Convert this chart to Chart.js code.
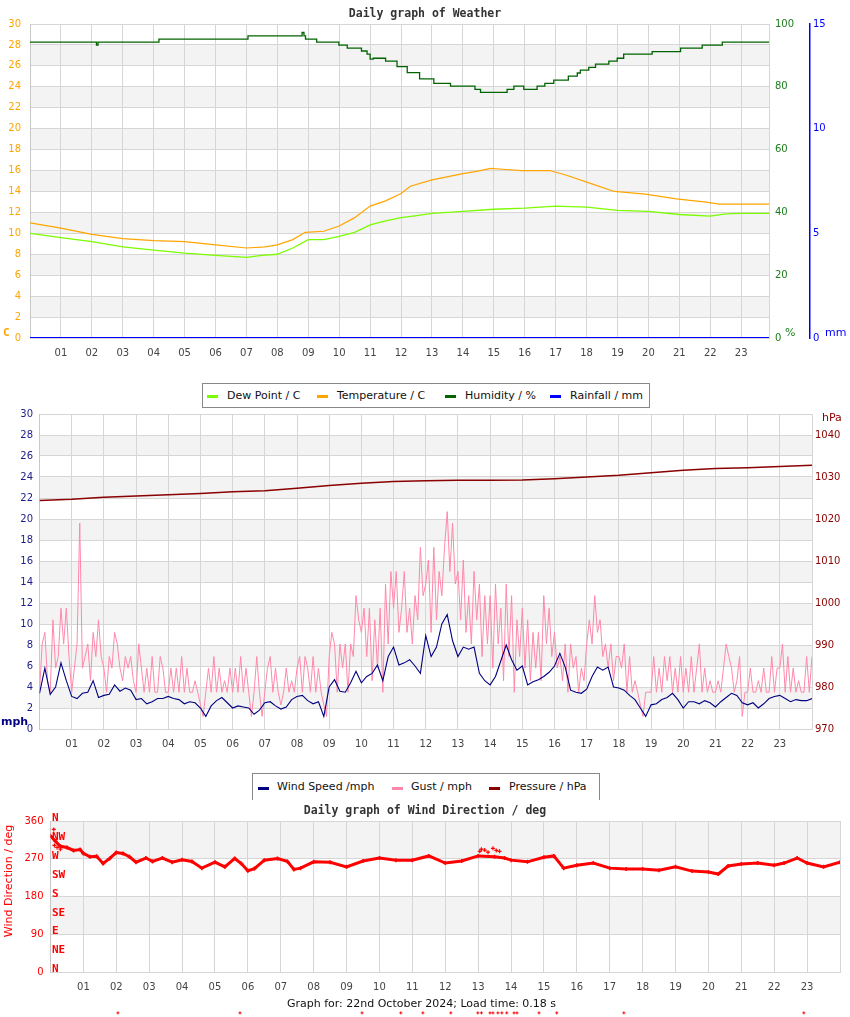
<!DOCTYPE html>
<html><head><meta charset="utf-8">
<script src="https://cdn.jsdelivr.net/npm/chart.js@4.4.1/dist/chart.umd.min.js"></script>
<style>
html,body{margin:0;padding:0;background:#fff;width:850px;height:1017px;overflow:hidden;position:relative;}
canvas{position:absolute;left:0;}
.t{position:absolute;left:0;width:850px;text-align:center;font:bold 11.5px "DejaVu Sans Mono",monospace;color:#333;line-height:14px;z-index:3;}
.lbox{position:absolute;background:#fff;border:1px solid #888;z-index:3;}
.li{position:absolute;font:11px "DejaVu Sans",sans-serif;color:#111;line-height:14px;white-space:nowrap;z-index:4;}
.mk{position:absolute;height:3px;width:11px;z-index:4;}
.foot{position:absolute;left:0;width:843px;text-align:center;font:11px "DejaVu Sans",sans-serif;color:#111;line-height:14px;z-index:3;}
</style></head>
<body>
<canvas id="c1" width="850" height="370" style="top:0"></canvas>
<canvas id="c2" width="850" height="370" style="top:400px"></canvas>
<canvas id="c3" width="850" height="222" style="top:795px"></canvas>

<div class="t" style="top:6px">Daily graph of Weather</div>
<div class="lbox" style="left:202px;top:383px;width:446px;height:23px"></div>
<div class="mk" style="left:207px;top:395px;background:#7cfc00"></div><div class="li" style="left:227px;top:389px">Dew Point / C</div>
<div class="mk" style="left:317px;top:395px;background:#ffa500"></div><div class="li" style="left:337px;top:389px">Temperature / C</div>
<div class="mk" style="left:445px;top:395px;background:#006400"></div><div class="li" style="left:465px;top:389px">Humidity / %</div>
<div class="mk" style="left:550px;top:395px;background:#0000ff"></div><div class="li" style="left:570px;top:389px">Rainfall / mm</div>

<div class="lbox" style="left:252px;top:773px;width:346px;height:26px;border-bottom:none"></div>
<div class="mk" style="left:258px;top:787px;background:#000080"></div><div class="li" style="left:277px;top:780px">Wind Speed /mph</div>
<div class="mk" style="left:392px;top:787px;background:#ff88aa"></div><div class="li" style="left:411px;top:780px">Gust / mph</div>
<div class="mk" style="left:489px;top:787px;background:#8b0000"></div><div class="li" style="left:509px;top:780px">Pressure / hPa</div>

<div class="t" style="top:803px">Daily graph of Wind Direction / deg</div>
<div class="foot" style="top:997px">Graph for: 22nd October 2024; Load time: 0.18 s</div>

<script>
// ---------- tick labels ----------
const HOUR_TICKS = ['01','02','03','04','05','06','07','08','09','10','11','12','13','14','15','16','17','18','19','20','21','22','23'];
const PRESSURE_TICKS = [970,980,990,1000,1010,1020,1030,1040];
const COMPASS = ['N','NE','E','SE','S','SW','W','NW','N'];
const COMPASS_DEG = [0,45,90,135,180,225,270,315,360];

// ---------- chart 1: weather ----------
const TEMP_T = [0,1,2,3,4,5,6,7,7.6,8,8.5,8.9,9.5,10,10.5,11,11.5,12,12.3,13,14,14.4,14.9,15.4,15.9,16.8,17.3,18.1,18.9,19.9,20.9,21.8,22.3,23.9];
const TEMP_V = [11.0,10.5,9.9,9.5,9.3,9.2,8.9,8.6,8.7,8.9,9.4,10.1,10.2,10.7,11.5,12.6,13.1,13.8,14.5,15.1,15.7,15.9,16.2,16.1,16.0,16.0,15.6,14.8,14.0,13.75,13.3,13.0,12.8,12.8];
const DEW_T = [0,1,2,3,4,5,6,7,7.5,8,8.5,9,9.5,10,10.5,11,11.5,12,12.5,13,14,15,16,17,18,19,20,21,22,22.5,23,23.9];
const DEW_V = [10.0,9.6,9.2,8.7,8.4,8.1,7.9,7.7,7.9,8.0,8.6,9.4,9.4,9.7,10.1,10.8,11.2,11.5,11.7,11.9,12.1,12.3,12.4,12.6,12.5,12.2,12.1,11.8,11.65,11.85,11.9,11.9];
const HUM_T = [0,2.15,2.2,4.17,7.05,8.8,8.86,8.91,9.27,9.99,10.26,10.72,10.9,11.0,11.1,11.5,11.87,12.2,12.6,13.06,13.6,14.39,14.57,15.43,15.65,15.97,16.4,16.65,16.94,17.41,17.7,17.8,18.07,18.29,18.72,18.99,19.2,20.12,21.04,21.74,22.39,23.9];
const HUM_V = [94.2,93.3,94.2,95.2,96.2,97.3,96.2,95.2,94.2,93.3,92.3,91.4,90.4,88.8,89.1,88.2,86.4,84.5,82.5,81.1,80.2,79.2,78.2,79.2,80.2,79.2,80.2,81.1,82.1,83.4,84.4,85.3,86.2,87.2,88.2,89.1,90.4,91.2,92.3,93.3,94.2,94.2];
const RAIN_T = [0,23.9];
const RAIN_V = [0,0];

// ---------- chart 2: wind / pressure ----------
// wind speed every 10 minutes from 00:00 to 24:00
const WIND_V = [
3.4,5.8,3.3,4.0,6.3,4.6, 3.1,2.9,3.4,3.5,4.6,3.0, 3.2,3.3,4.2,3.6,3.9,3.7, 2.8,2.9,2.4,2.6,2.9,2.9,
3.1,2.9,2.8,2.4,2.6,2.5, 2.0,1.2,2.2,2.7,3.0,2.5, 2.0,2.2,2.1,2.0,1.4,1.8, 2.5,2.6,2.2,1.9,2.1,2.8,
3.1,3.2,2.7,2.4,2.6,1.2, 4.0,4.7,3.6,3.5,4.4,5.5, 4.4,5.0,5.3,6.1,4.6,6.9, 7.8,6.1,6.3,6.6,6.0,5.3,
8.9,6.9,7.8,10.0,10.9,8.4, 6.9,7.8,7.6,7.8,5.3,4.6, 4.2,5.0,6.5,8.0,6.6,5.6, 6.0,4.2,4.5,4.7,5.0,5.4,
6.0,7.2,5.9,3.7,3.5,3.4, 3.8,5.0,5.9,5.6,5.9,4.0, 3.9,3.7,3.2,2.8,2.0,1.2, 2.3,2.4,2.8,3.0,3.4,2.8,
2.0,2.6,2.6,2.4,2.7,2.5, 2.1,2.6,3.0,3.4,3.2,2.5, 2.3,2.5,2.0,2.4,2.9,3.1, 3.2,2.9,2.6,2.8,2.7,2.7,
2.9];
// gust every 5 minutes from 00:00 to 24:00
const GUST_V = [
3.5,8.1,9.2,4.6,3.5,10.4,5.8,6.9,11.5,8.1,11.5,6.9,
3.5,5.8,8.1,19.6,5.8,6.9,8.1,4.6,9.2,6.9,10.4,6.9,
5.8,3.5,6.9,5.8,9.2,8.1,5.8,4.6,6.9,5.8,6.9,4.6,
3.5,8.1,5.8,3.5,5.8,3.5,6.9,3.5,3.5,6.9,5.8,3.5,
3.5,5.8,3.5,5.8,3.5,6.9,3.5,5.8,3.5,3.5,4.6,3.5,
2.3,1.2,3.5,5.8,3.5,6.9,3.5,5.8,3.5,4.6,3.5,5.8,
3.5,5.8,3.5,6.9,3.5,5.8,3.5,1.2,3.5,6.9,3.5,1.2,
3.5,5.8,6.9,3.5,5.8,3.5,2.3,3.5,5.8,3.5,4.6,3.5,
5.8,6.9,3.5,6.9,5.8,3.5,6.9,3.5,5.8,3.5,2.3,1.2,
6.9,9.2,8.1,3.5,8.1,5.8,8.1,3.5,8.1,6.9,12.7,10.4,
9.2,11.5,6.9,11.5,4.6,10.4,5.8,11.5,3.5,13.8,8.1,15.0,
11.5,15.0,9.2,11.5,15.0,9.2,11.5,8.1,12.7,10.4,17.3,12.7,
13.8,16.1,9.2,17.3,10.4,15.0,12.7,17.3,20.7,15.0,19.6,13.8,
15.0,10.4,16.1,9.2,12.7,8.1,15.0,10.4,13.8,6.9,12.7,8.1,
12.7,5.8,13.8,8.1,11.5,4.6,13.8,6.9,12.7,3.5,10.4,6.9,
11.5,5.8,10.4,4.6,9.2,5.8,9.2,4.6,12.7,8.1,11.5,6.9,
9.2,5.8,6.9,4.6,8.1,3.5,8.1,5.8,6.9,3.5,5.8,4.6,
8.1,10.4,8.1,12.7,9.2,10.4,6.9,8.1,5.8,8.1,4.6,6.9,
6.9,5.8,8.1,3.5,6.9,3.5,4.6,3.5,2.3,1.2,3.5,3.5,
3.5,6.9,3.5,5.8,3.5,6.9,4.6,6.9,3.5,5.8,3.5,6.9,
3.5,5.8,3.5,6.9,3.5,5.8,8.1,3.5,5.8,3.5,4.6,3.5,
3.5,4.6,3.5,5.8,8.1,6.9,5.8,3.5,4.6,6.9,1.2,3.5,
3.5,5.8,3.5,3.5,4.6,3.5,5.8,3.5,3.5,6.9,3.5,5.8,
5.8,8.1,3.5,6.9,3.5,5.8,3.5,4.6,3.5,3.5,6.9,3.5,
6.9];
// pressure hourly 00:00 .. 24:00
const PRESS_V = [1024.4,1024.7,1025.2,1025.5,1025.8,1026.1,1026.5,1026.7,1027.3,1028.0,1028.5,1028.9,1029.1,1029.2,1029.2,1029.3,1029.6,1030.0,1030.4,1031.0,1031.6,1032.0,1032.2,1032.5,1032.8];

// ---------- chart 3: wind direction ----------
const WDIR_T = [0,0.15,0.3,0.5,0.7,0.9,1.0,1.2,1.4,1.6,1.8,2.0,2.2,2.4,2.6,2.9,3.1,3.4,3.7,4.0,4.3,4.6,5.0,5.3,5.6,5.8,6.0,6.2,6.5,6.9,7.2,7.4,7.6,8.0,8.5,9.0,9.5,10.0,10.5,11.0,11.5,12.0,12.5,13.0,13.5,13.8,14.0,14.5,15.0,15.3,15.6,16.0,16.5,17.0,17.5,18.0,18.5,19.0,19.5,20.0,20.3,20.6,21.0,21.5,22.0,22.3,22.7,23.0,23.5,24.0];
const WDIR_V = [325,312,300,297,290,292,283,275,276,259,271,285,283,275,262,272,264,272,262,268,264,248,262,251,271,259,242,247,267,271,264,245,248,263,262,251,265,272,267,267,277,260,265,277,275,272,267,263,274,277,248,255,260,248,246,246,243,251,241,239,234,253,258,260,255,260,272,260,251,262];
const WDIR_OUT_T = [0.1,0.12,0.2,0.3,13.05,13.1,13.2,13.3,13.45,13.55,13.65];
const WDIR_OUT_V = [340,302,297,293,288,293,291,286,295,290,288];
const WDIR_BAD_T = [2.05,5.76,9.47,10.65,11.32,12.17,12.99,13.1,13.36,13.45,13.6,13.72,13.87,14.09,14.18,14.85,15.39,17.43,22.9];
const WDIR_BAD_V = [-96,-96,-96,-96,-96,-96,-96,-96,-96,-96,-96,-96,-96,-96,-96,-96,-96,-96,-96];

// ---------- helpers ----------
const pts = (t, v) => t.map((x, i) => ({x, y: v[i]}));
const ptsStep = (v, per) => v.map((y, i) => ({x: i / per, y}));
Chart.defaults.font.family = 'DejaVu Sans';
Chart.defaults.font.size = 10;
const GRID = '#d6d6d6', BAND = '#f3f3f3';

function bandPlugin(axisId, bands) {
  return { id: 'bands', beforeDraw(chart) {
    const {ctx, chartArea: a} = chart; const s = chart.scales[axisId];
    ctx.save(); ctx.fillStyle = BAND;
    for (const [lo, hi] of bands) {
      const y1 = s.getPixelForValue(hi), y2 = s.getPixelForValue(lo);
      ctx.fillRect(a.left, y1, a.right - a.left, y2 - y1);
    }
    ctx.restore();
  }};
}
function textPlugin(fn) {
  return { id: 'texts', afterDraw(chart) {
    const ctx = chart.ctx; ctx.save();
    for (const t of fn(chart)) {
      ctx.font = t.font; ctx.fillStyle = t.color;
      ctx.textAlign = t.align || 'left'; ctx.textBaseline = 'middle';
      if (t.rot) { ctx.translate(t.x, t.y); ctx.rotate(t.rot); ctx.fillText(t.text, 0, 0); ctx.setTransform(1,0,0,1,0,0); }
      else ctx.fillText(t.text, t.x, t.y);
    }
    ctx.restore();
  }};
}
// draws the elements of one dataset even where they fall outside the plot area
function outsidePointsPlugin(dsIndex) {
  return { id: 'outside', afterDatasetsDraw(chart) {
    const ctx = chart.ctx, meta = chart.getDatasetMeta(dsIndex);
    ctx.save(); ctx.strokeStyle = '#ff0000'; ctx.lineWidth = 1;
    for (const p of meta.data) {
      ctx.beginPath(); ctx.moveTo(p.x - 1.5, p.y); ctx.lineTo(p.x + 1.5, p.y);
      ctx.moveTo(p.x, p.y - 1.5); ctx.lineTo(p.x, p.y + 1.5); ctx.stroke();
    }
    ctx.restore();
  }};
}
function xAxis(max, height) {
  return {
    type: 'linear', min: 0, max: max,
    afterBuildTicks: s => { s.ticks = Array.from({length: Math.floor(max) + 1}, (_, i) => ({value: i})); },
    afterFit: s => { s.height = height; },
    ticks: { autoSkip: false, maxRotation: 0, padding: 9, color: '#444', font: {size: 10},
      callback: v => (v >= 1 && v <= 23) ? HOUR_TICKS[v - 1] : '' },
    grid: { color: GRID, drawTicks: false }, border: { color: GRID }
  };
}
const base = { responsive: false, animation: false, events: [],
  plugins: { legend: { display: false }, tooltip: { enabled: false }, title: { display: false } } };

// bands (styling)
const bands30 = []; for (let v = 2; v < 30; v += 4) bands30.push([v, v + 2]);

// ---------- chart 1 ----------
new Chart(document.getElementById('c1'), {
  type: 'scatter',
  data: { datasets: [
    { data: pts(RAIN_T, RAIN_V), yAxisID: 'yr', showLine: true, borderColor: '#0000ff', borderWidth: 2, pointRadius: 0, order: 1 },
    { data: pts(DEW_T, DEW_V), yAxisID: 'y', showLine: true, borderColor: '#7cfc00', borderWidth: 1.3, pointRadius: 0, order: 3 },
    { data: pts(TEMP_T, TEMP_V), yAxisID: 'y', showLine: true, borderColor: '#ffa500', borderWidth: 1.2, pointRadius: 0, order: 2 },
    { data: pts(HUM_T, HUM_V), yAxisID: 'yh', showLine: true, stepped: true, borderColor: '#006400', borderWidth: 1.3, pointRadius: 0, order: 4 }
  ]},
  options: { ...base,
    layout: { padding: { top: 24, left: 0, right: 0, bottom: 0 } },
    scales: {
      x: xAxis(23.9, 32),
      y: { position: 'left', min: 0, max: 30, afterFit: s => { s.width = 30; },
        ticks: { stepSize: 2, padding: 9, color: '#ffa500', font: {size: 10} },
        grid: { color: GRID, drawTicks: false }, border: { color: '#c8c8c8' } },
      yh: { position: 'right', weight: 0, min: 0, max: 100, afterFit: s => { s.width = 41; },
        ticks: { stepSize: 20, padding: 6, color: '#1e7b1e', font: {size: 10} },
        grid: { display: false, drawTicks: false }, border: { display: true, color: GRID } },
      yr: { position: 'right', weight: 1, min: 0, max: 15, afterFit: s => { s.width = 40; },
        ticks: { stepSize: 5, padding: 3, color: '#0000ff', font: {size: 10} },
        grid: { display: false, drawTicks: false }, border: { display: true, color: '#0000ff', width: 1.5 } }
    }
  },
  plugins: [bandPlugin('y', bands30), textPlugin(ch => [
    { text: 'C', x: 3, y: 333, font: 'bold 11px "DejaVu Sans Mono"', color: '#ffa500' },
    { text: '%', x: 785, y: 333, font: '11px "DejaVu Sans"', color: '#1e7b1e' },
    { text: 'mm', x: 825, y: 333.5, font: '11px "DejaVu Sans"', color: '#0000ff' }
  ])]
});

// ---------- chart 2 ----------
new Chart(document.getElementById('c2'), {
  type: 'scatter',
  data: { datasets: [
    { data: ptsStep(WIND_V, 6), yAxisID: 'y', showLine: true, borderColor: '#000080', borderWidth: 1.1, pointRadius: 0, order: 1 },
    { data: ptsStep(GUST_V, 12), yAxisID: 'y', showLine: true, borderColor: '#ff88aa', borderWidth: 1, pointRadius: 0, order: 2 },
    { data: ptsStep(PRESS_V, 1), yAxisID: 'yp', showLine: true, borderColor: '#8b0000', borderWidth: 1.5, pointRadius: 0, order: 0 }
  ]},
  options: { ...base,
    layout: { padding: { top: 14, left: 0, right: 0, bottom: 0 } },
    scales: {
      x: xAxis(24, 41),
      y: { position: 'left', min: 0, max: 30, afterFit: s => { s.width = 39.5; },
        ticks: { stepSize: 2, padding: 6.5, color: '#1c1c8a', font: {size: 10} },
        grid: { color: GRID, drawTicks: false }, border: { color: '#c8c8c8' } },
      yp: { position: 'right', min: 970, max: 1045, afterFit: s => { s.width = 38; },
        afterBuildTicks: s => { s.ticks = PRESSURE_TICKS.map(v => ({value: v})); },
        ticks: { padding: 3, color: '#8b0000', font: {size: 10}, callback: v => String(v) },
        grid: { display: false, drawTicks: false }, border: { display: true, color: GRID } }
    }
  },
  plugins: [bandPlugin('y', bands30), textPlugin(ch => [
    { text: 'mph', x: 1, y: 322, font: 'bold 11px "DejaVu Sans"', color: '#000080' },
    { text: 'hPa', x: 822, y: 18.5, font: '11px "DejaVu Sans"', color: '#8b0000' }
  ])]
});

// ---------- chart 3 ----------
new Chart(document.getElementById('c3'), {
  type: 'scatter',
  data: { datasets: [
    { data: pts(WDIR_T, WDIR_V), showLine: true, borderColor: '#ff0000', borderWidth: 3, pointStyle: 'cross', pointRadius: 2, pointBorderWidth: 1.5, pointBorderColor: '#ff0000' },
    { data: pts(WDIR_OUT_T, WDIR_OUT_V), showLine: false, pointStyle: 'cross', pointRadius: 2, pointBorderWidth: 1.2, pointBorderColor: '#ff0000' },
    { data: pts(WDIR_BAD_T, WDIR_BAD_V), showLine: false, clip: false, pointRadius: 0 }
  ]},
  options: { ...base,
    layout: { padding: { top: 26, left: 0, right: 10, bottom: 0 } },
    scales: {
      x: xAxis(24, 44.5),
      y: { position: 'left', min: 0, max: 360, afterFit: s => { s.width = 50.5; },
        ticks: { stepSize: 90, padding: 7, color: '#ff0000', font: {size: 10} },
        grid: { color: GRID, drawTicks: false }, border: { color: '#c8c8c8' } }
    }
  },
  plugins: [bandPlugin('y', [[90,180],[270,360]]), outsidePointsPlugin(2), textPlugin(ch => {
    const s = ch.scales.y, L = ch.chartArea.left;
    const out = COMPASS.map((c, i) => ({ text: c, x: L + 1.5, y: s.getPixelForValue(COMPASS_DEG[i]) - 3, font: 'bold 11px "DejaVu Sans Mono"', color: '#ff0000' }));
    out.push({ text: 'Wind Direction / deg', x: 9, y: 86, rot: -Math.PI / 2, align: 'center', font: '11px "DejaVu Sans"', color: '#ff0000' });
    return out;
  })]
});
</script>
</body></html>
